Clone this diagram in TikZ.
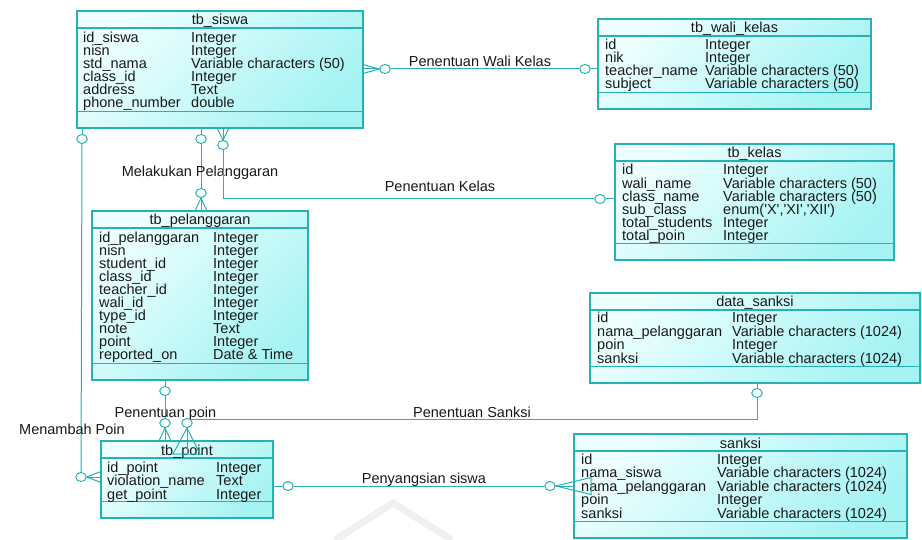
\documentclass[tikz,border=0pt]{standalone}
\usepackage{fontspec}
\setmainfont{Liberation Sans}[Ligatures=TeXOff]
\usetikzlibrary{shapes.geometric}
\definecolor{ln}{RGB}{38,178,178}
\definecolor{tblA}{RGB}{238,255,255}
\definecolor{tblB}{RGB}{166,243,243}
\definecolor{txt}{RGB}{25,25,25}
\newcommand\ertbl[6]{%
  \node[tbl, minimum width={#4-#2}, minimum height={#5-#3}] (#1) at (#2,#3) {};
  \draw[tbline] ([yshift=-17pt]#1.north west) -- ([yshift=-17pt]#1.north east);
  \draw[tbline] ([yshift=16.5pt]#1.south west) -- ([yshift=16.5pt]#1.south east);
  \node[ttl] (#1-title) at ([yshift=-12.5pt]#1.north) {#6};
}
\newcommand\errows[6]{%
  \foreach \a/\b [count=\i from 0] in {#6}{%
    \node[cell] (#1-a\i) at (#2,{#4+#5*\i}) {\a};
    \node[cell] (#1-b\i) at (#3,{#4+#5*\i}) {\b};
  }%
}
\begin{document}
\begin{tikzpicture}[x=1pt,y=-1pt,
  font=\fontsize{14.5}{14.5}\selectfont,
  tbl/.style={draw=ln, line width=1.2pt, top color=tblA, bottom color=tblB, shading angle=45,
    anchor=north west, inner sep=0pt, outer sep=0pt},
  tbline/.style={draw=ln, line width=1.2pt},
  ttl/.style={anchor=base, inner sep=0pt, text=txt, yshift=-1.5pt},
  cell/.style={anchor=base west, inner sep=0pt, text=txt, yshift=-2pt},
  lbl/.style={anchor=base, inner sep=0pt, text=txt, yshift=-0.5pt},
  ln/.style={draw=ln, line width=1pt},
  crc/.style={ellipse, draw=ln, fill=white, line width=1pt, minimum width=10.5pt, minimum height=9pt, inner sep=0pt}]
\useasboundingbox (0,0) rectangle (922,540);
\fill[white] (0,0) rectangle (922,540);
% faint watermark
\draw[line width=7pt, black!6, line join=miter] (335,540) -- (393,503) -- (452,540);

% tables
\ertbl{siswa}{77}{11}{363}{128}{tb\_siswa}
\errows{siswa}{83}{191}{41}{13}{id\_siswa/Integer, nisn/Integer, std\_nama/Variable characters (50), class\_id/Integer, address/Text, phone\_number/double}

\ertbl{wali}{598}{19}{871}{109}{tb\_wali\_kelas}
\errows{wali}{605}{705}{48}{13}{id/Integer, nik/Integer, teacher\_name/Variable characters (50), subject/Variable characters (50)}

\ertbl{kelas}{615}{144}{894}{260}{tb\_kelas}
\errows{kelas}{622}{723}{173}{13.2}{id/Integer, wali\_name/Variable characters (50), class\_name/Variable characters (50), sub\_class/{enum('X','XI','XII')}, total\_students/Integer, total\_poin/Integer}

\ertbl{pel}{92}{211}{308}{380}{tb\_pelanggaran}
\errows{pel}{99}{213}{241}{12.95}{id\_pelanggaran/Integer, nisn/Integer, student\_id/Integer, class\_id/Integer, teacher\_id/Integer, wali\_id/Integer, type\_id/Integer, note/Text, point/Integer, reported\_on/Date \& Time}

\ertbl{data}{590}{293}{920}{383}{data\_sanksi}
\errows{data}{597}{732}{321}{13.5}{id/Integer, nama\_pelanggaran/Variable characters (1024), poin/Integer, sanksi/Variable characters (1024)}

\ertbl{point}{101}{441}{273}{518}{tb\_point}
\errows{point}{107}{216}{470}{13.5}{id\_point/Integer, violation\_name/Text, get\_point/Integer}

\ertbl{sanksi}{574}{434}{907}{538}{sanksi}
\errows{sanksi}{581}{717}{462}{13.5}{id/Integer, nama\_siswa/Variable characters (1024), nama\_pelanggaran/Variable characters (1024), poin/Integer, sanksi/Variable characters (1024)}

% ---- connector 1: Penentuan Wali Kelas
\coordinate (s-r) at (363,69);
\coordinate (w-l) at (598,69);
\node[crc] (c1a) at (385,69) {};
\node[crc] (c1b) at (585,69) {};
\draw[ln] ([yshift=4.5pt]s-r) -- (c1a.west) -- ([yshift=-4.5pt]s-r);
\draw[ln] (s-r) -- (c1a);
\draw[ln] (c1a) -- (c1b);
\draw[ln] (c1b) -- (w-l);
\node[lbl] (l1) at (480,66) {Penentuan Wali Kelas};

% ---- connector 2: Melakukan Pelanggaran
\coordinate (s-b2) at (201,128);
\coordinate (p-t) at (201,211);
\node[crc] (c2a) at (201,139) {};
\node[crc] (c2b) at (201,193) {};
\draw[ln] (s-b2) -- (c2a);
\draw[ln] (c2a) -- (c2b);
\draw[ln] ([xshift=-6pt]p-t) -- (c2b.south) -- ([xshift=6pt]p-t);
\draw[ln] (c2b) -- (p-t);
\node[lbl] (l2) at (200,176) {Melakukan Pelanggaran};

% ---- connector 3: Penentuan Kelas
\coordinate (s-b3) at (223,128);
\coordinate (k-c) at (223,199);
\coordinate (k-l) at (615,199);
\node[crc] (c3a) at (223,145) {};
\node[crc] (c3b) at (600,199) {};
\draw[ln] ([xshift=-6pt]s-b3) -- (c3a.north) -- ([xshift=6pt]s-b3);
\draw[ln] (s-b3) -- (c3a);
\draw[ln] (c3a) -- (k-c) -- (c3b);
\draw[ln] (c3b) -- (k-l);
\node[lbl] (l3) at (440,191) {Penentuan Kelas};

% ---- connector 4: Menambah Poin
\coordinate (s-b1) at (82,128);
\coordinate (pt-l) at (101,477);
\node[crc] (c4a) at (82,139) {};
\node[crc] (c4b) at (81,477) {};
\draw[ln] (s-b1) -- (c4a);
\draw[ln] (c4a) -- (c4b);
\draw[ln] ([yshift=5.5pt]pt-l) -- (c4b.east) -- ([yshift=-5.5pt]pt-l);
\draw[ln] (c4b) -- (pt-l);
\node[lbl] (l4) at (72,434) {Menambah Poin};

% ---- connector 5: Penentuan poin
\coordinate (p-b) at (165,380);
\coordinate (pt-t1) at (165,441);
\node[crc] (c5a) at (165,391) {};
\node[crc] (c5b) at (165,423) {};
\draw[ln] (p-b) -- (c5a);
\draw[ln] (c5a) -- (c5b);
\draw[ln] ([xshift=-6pt]pt-t1) -- (c5b.south) -- ([xshift=6pt]pt-t1);
\draw[ln] (c5b) -- (pt-t1);
\node[lbl] (l5) at (165.5,417) {Penentuan poin};

% ---- connector 6: Penentuan Sanksi
\coordinate (d-b) at (757,383);
\coordinate (d-c) at (757,419);
\coordinate (pt-t2) at (187,454);
\node[crc] (c6a) at (757,393) {};
\draw[ln] (d-b) -- (c6a);
\draw[ln] (c6a) -- (d-c) -- (190,419);
\node[crc] (c6b) at (187,423) {};
\draw[ln] (c6b.south) -- ([xshift=-14pt]pt-t2) -- ([xshift=13pt]pt-t2) -- cycle;
\draw[ln] (c6b) -- (pt-t2);
\node[lbl] (l6) at (472,417) {Penentuan Sanksi};

% ---- connector 7: Penyangsian siswa
\coordinate (pt-r) at (273,486);
\coordinate (sk-l) at (574,486);
\coordinate (sk-t) at (591,486);
\node[crc] (c7a) at (288,486) {};
\node[crc] (c7b) at (550,486) {};
\draw[ln] (pt-r) -- (c7a);
\draw[ln] (c7a) -- (c7b);
\draw[ln] (c7b.east) -- ([yshift=8.5pt]sk-t) -- ([yshift=-8.5pt]sk-t) -- cycle;
\draw[ln] (c7b) -- (sk-l);
\node[lbl] (l7) at (424,483) {Penyangsian siswa};
\end{tikzpicture}
\end{document}
